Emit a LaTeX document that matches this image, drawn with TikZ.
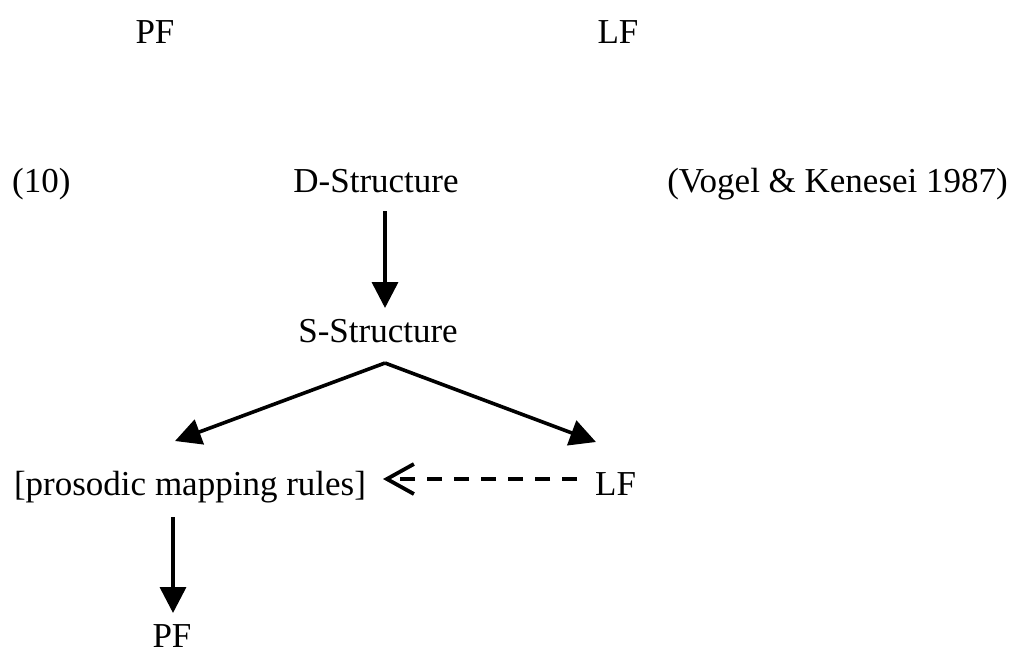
\documentclass[tikz,border=0pt]{standalone}
\usepackage{fontspec}
\setmainfont{Liberation Serif}
\usetikzlibrary{arrows.meta}
\begin{document}
\begin{tikzpicture}[x=1pt,y=1pt,
  lbl/.style={inner sep=0pt,anchor=base,font=\fontsize{35}{41}\selectfont},
  conn/.style={line width=3.6pt,-{Triangle[length=26pt,width=26pt]}},
  dconn/.style={line width=3.6pt,dash pattern=on 15pt off 12pt,-{Straight Barb[length=27pt,width=30pt,line width=3.8pt]}}]
\useasboundingbox (0,0) rectangle (1011,-654);
% top row
\node[lbl] (pftop) at (155,-43) {PF};
\node[lbl] (lftop) at (618,-43) {LF};
% example
\node[lbl,anchor=base west] (num) at (12,-192) {(10)};
\node[lbl] (ds) at (376,-192) {D-Structure};
\node[lbl,anchor=base east] (src) at (1008,-192) {(Vogel \& Kenesei 1987)};
\node[lbl] (ss) at (378,-342) {S-Structure};
\node[lbl] (pmr) at (190,-495) {[prosodic mapping rules]};
\node[lbl,anchor=base west] (lf) at (595,-495) {LF};
\node[lbl] (pf) at (172,-647) {PF};
% connector ends
\coordinate (dsb) at (385,-211);
\coordinate (sst) at (385,-308);
\coordinate (ssb) at (385,-363);
\coordinate (pmrt) at (175,-441);
\coordinate (lft) at (596,-442);
\coordinate (lfw) at (577,-479);
\coordinate (pmre) at (383,-479);
\coordinate (pmrb) at (173,-517);
\coordinate (pft) at (173,-613);
\draw[conn] (dsb) -- (sst);
\draw[conn] (ssb) -- (pmrt);
\draw[conn] (ssb) -- (lft);
\draw[dconn] (lfw) -- (pmre);
\draw[conn] (pmrb) -- (pft);
\end{tikzpicture}
\end{document}
